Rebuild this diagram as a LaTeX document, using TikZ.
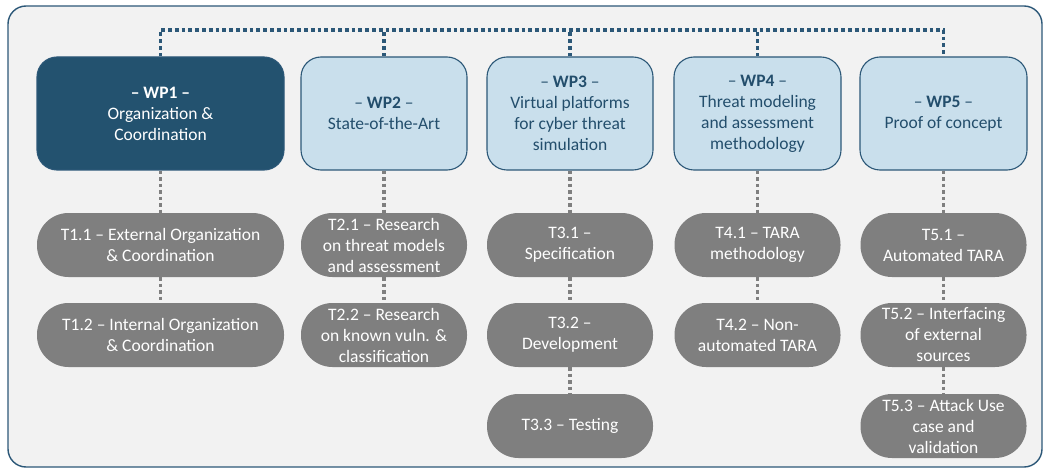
\documentclass[tikz,border=0pt]{standalone}
\usepackage{fontspec}
\setmainfont{Carlito}
\definecolor{frameblue}{HTML}{2C5878}
\definecolor{darkwp}{HTML}{23526F}
\definecolor{lightwp}{HTML}{C9DFEC}
\definecolor{wptext}{HTML}{234E6C}
\definecolor{taskgray}{HTML}{7F7F7F}
\definecolor{panel}{HTML}{F2F2F2}
\tikzset{
  wpbox/.style={draw=frameblue, line width=1.1pt, rounded corners=20pt,
    minimum height=113pt, align=center, inner sep=2pt,
    font=\fontsize{17.5}{21}\selectfont},
  wpdark/.style={wpbox, fill=darkwp, text=white},
  wplight/.style={wpbox, fill=lightwp, text=wptext},
  taskbox/.style={fill=taskgray, text=white, rounded corners=31.5pt,
    minimum height=64pt, minimum width=166pt, align=center, inner sep=1pt,
    font=\fontsize{17.5}{21}\selectfont},
  topdots/.style={draw=frameblue, line width=3.8pt, dash pattern=on 3.8pt off 3pt},
  taskdots/.style={draw=taskgray, line width=3.8pt, dash pattern=on 3.5pt off 3pt}
}
\begin{document}
\begin{tikzpicture}[x=1pt,y=-1pt]
\useasboundingbox (0,0) rectangle (1046,473);
% panel
\draw[frameblue, fill=panel, line width=1.4pt, rounded corners=18pt] (8,6) rectangle (1042,467);

% work packages
\node[wpdark, minimum width=247pt] (wp1) at (160.5,113.5) {\textbf{– WP1 –}\\Organization \&\\Coordination};
\node[wplight, minimum width=166pt] (wp2) at (384,113.5) {– \textbf{WP2} –\\State-of-the-Art};
\node[wplight, minimum width=166pt] (wp3) at (570,113.5) {– \textbf{WP3} –\\Virtual platforms\\for cyber threat\\simulation};
\node[wplight, minimum width=167pt] (wp4) at (757.5,113.5) {– \textbf{WP4} –\\Threat modeling\\and assessment\\methodology};
\node[wplight, minimum width=167pt] (wp5) at (943.5,113.5) {– \textbf{WP5} –\\Proof of concept};

% tasks
\node[taskbox, minimum width=247pt] (t11) at (160.5,245) {T1.1 – External Organization\\\& Coordination};
\node[taskbox, minimum width=247pt] (t12) at (160.5,335) {T1.2 – Internal Organization\\\& Coordination};
\node[taskbox] (t21) at (384,245) {T2.1 – Research\\on threat models\\and assessment};
\node[taskbox] (t22) at (384,335) {T2.2 – Research\\on known vuln. \&\\classification};
\node[taskbox] (t31) at (570,245) {T3.1 –\\Specification};
\node[taskbox] (t32) at (570,335) {T3.2 –\\Development};
\node[taskbox] (t33) at (570,426) {T3.3 – Testing};
\node[taskbox] (t41) at (757.5,245) {T4.1 – TARA\\methodology};
\node[taskbox] (t42) at (757.5,335) {T4.2 – Non-\\automated TARA};
\node[taskbox] (t51) at (943.5,245) {T5.1 –\\Automated TARA};
\node[taskbox] (t52) at (943.5,335) {T5.2 – Interfacing\\of external\\sources};
\node[taskbox] (t53) at (943.5,426) {T5.3 – Attack Use\\case and\\validation};

% coordination bus across the work packages
\coordinate (bus) at (0,30);
\draw[topdots] (wp1.north) -- (wp1.north |- bus) -- (wp5.north |- bus) -- (wp5.north);
\draw[topdots] (wp2.north) -- (wp2.north |- bus);
\draw[topdots] (wp3.north) -- (wp3.north |- bus);
\draw[topdots] (wp4.north) -- (wp4.north |- bus);

% work package to task links
\foreach \a/\b in {wp1/t11, t11/t12, wp2/t21, t21/t22, wp3/t31, t31/t32, t32/t33,
                   wp4/t41, t41/t42, wp5/t51, t51/t52, t52/t53}
  \draw[taskdots] (\a.south) -- (\b.north);
\end{tikzpicture}
\end{document}
